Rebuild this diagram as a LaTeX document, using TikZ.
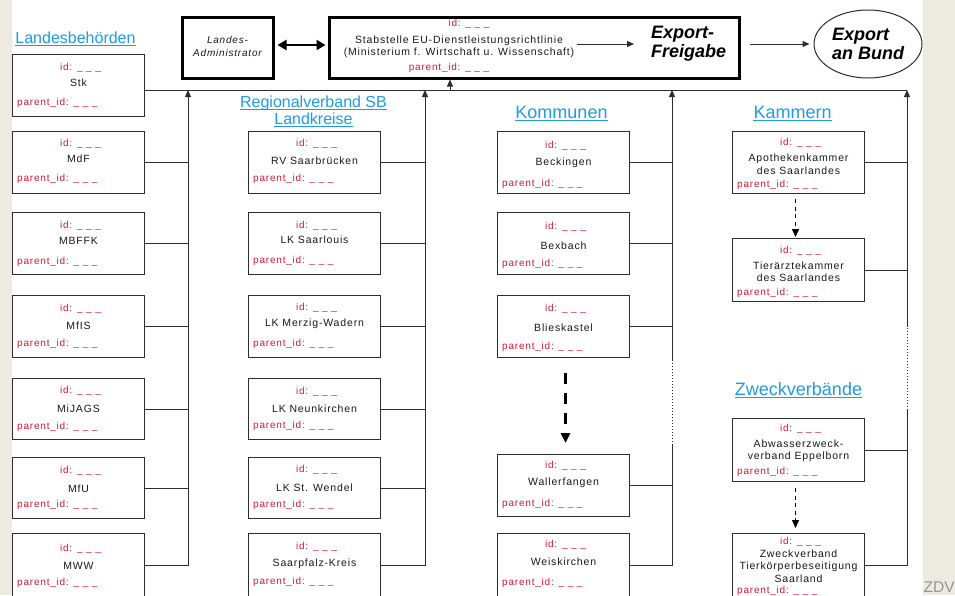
\documentclass[tikz,border=0pt]{standalone}
\usepackage{fontspec}
\setmainfont{Liberation Sans}
\newfontfamily\bxf[LetterSpace=8]{Liberation Sans}
\usetikzlibrary{arrows.meta,calc,shapes.geometric}
\definecolor{beige}{RGB}{236,234,225}
\definecolor{idred}{RGB}{214,24,56}
\definecolor{hblue}{RGB}{32,156,228}
\definecolor{lnc}{RGB}{45,45,45}
\definecolor{zdvgray}{RGB}{150,150,150}
\tikzset{
  obox/.style={draw=lnc, line width=1pt, fill=white, rectangle, inner sep=0pt, minimum width=132pt},
  tbox/.style={draw=black, line width=3pt, fill=white, rectangle, inner sep=0pt},
  idt/.style={text=idred, inner sep=0pt, font=\bxf\fontsize{10}{12}\selectfont},
  pidt/.style={idt, anchor=west},
  nmt/.style={text=black!90, inner sep=0pt, align=center, font=\bxf\fontsize{10.5}{12.5}\selectfont},
  hdrt/.style={text=hblue, inner sep=0pt, anchor=base},
  conn/.style={draw=lnc, line width=1pt},
  up/.style={conn, -{Triangle[length=7pt,width=6pt]}},
  dotl/.style={draw=lnc, line width=0.9pt, dash pattern=on 1pt off 2pt},
  bigdash/.style={draw=black, line width=2.5pt, dash pattern=on 11pt off 9pt, -{Triangle[length=10pt,width=9pt]}},
  smdash/.style={draw=black, line width=1.4pt, dash pattern=on 4pt off 3.5pt, -{Triangle[length=8pt,width=7pt]}},
  bigtxt/.style={font=\fontsize{18}{19}\selectfont\bfseries\itshape, inner sep=0pt, align=left},
}
% name, left x, top y, height, label, id offset, name offset, parent offset (from bottom)
\newcommand\obox[8]{%
  \node[obox, minimum height=#4pt, anchor=north west] (#1) at (#2,#3) {};
  \node[idt] (#1-id) at ($(#1.north)+(2,#6)$) {id: \_ \_ \_};
  \node[nmt] (#1-nm) at ($(#1.north)+(0,#7)$) {#5};
  \node[pidt] (#1-pid) at ($(#1.south west)+(5,-#8)$) {parent\_id: \_ \_ \_};
}
% name, center x, baseline y, size, text
\newcommand\hdr[5]{%
  \node[hdrt, font=\fontsize{#4}{#4}\selectfont] (#1) at (#2,#3) {#5};
  \draw[hblue, line width=1pt] ($(#1.base west)+(0,2)$) -- ($(#1.base east)+(0,2)$);
}
\begin{document}
\begin{tikzpicture}[x=1pt,y=-1pt]
\useasboundingbox (0,0) rectangle (955,595);
\fill[white] (0,0) rectangle (955,595);
\fill[beige] (0,0) rectangle (12,595);
\fill[beige] (923,0) rectangle (955,595);
\node[anchor=base west, text=zdvgray, font=\fontsize{15.5}{15.5}\selectfont, inner sep=0pt] (zdv) at (923.5,592) {ZDV};

% top row
\node[tbox, minimum width=91pt, minimum height=61pt, anchor=north west] (lad) at (180.5,15.5) {};
\node[nmt, font=\bxf\itshape\fontsize{10}{13}\selectfont] (ladtxt) at ($(lad.center)+(0,-1.5)$) {Landes-\\Administrator};
\node[tbox, minimum width=410pt, minimum height=61pt, anchor=north west] (stab) at (327.5,15.5) {};
\node[idt] (stabid) at (469,24) {id: \_ \_ \_};
\node[nmt, font=\bxf\fontsize{10.5}{12}\selectfont] (stabtxt) at (459,47) {Stabstelle EU-Dienstleistungsrichtlinie\\(Ministerium f. Wirtschaft u. Wissenschaft)};
\node[idt] (stabpid) at (449,68) {parent\_id: \_ \_ \_};
\node[bigtxt, anchor=west] (exfrei) at (651,44) {Export-\\Freigabe};
\node[ellipse, draw=lnc, line width=1pt, fill=white, minimum width=108pt, minimum height=68pt, inner sep=0pt, bigtxt] (bund) at (868,44) {Export\\an Bund};

\draw[line width=2.6pt, {Triangle[length=9pt,width=10pt]}-{Triangle[length=9pt,width=10pt]}, shorten <=3pt, shorten >=2pt] ($(lad.east)+(0,-2.5)$) -- ($(stab.west)+(0,-2.5)$);
\draw[conn, -{Triangle[length=7pt,width=6pt]}, shorten <=3pt, shorten >=17pt] (stabtxt.east |- exfrei.west) -- (exfrei.west);
\draw[conn, -{Triangle[length=7pt,width=6pt]}, shorten <=9.5pt, shorten >=4pt] (stab.east |- bund.west) -- (bund.west);

% headers
\hdr{hland}{75.5}{43}{16}{Landesbehörden}
\hdr{hreg}{313.5}{107}{16}{Regionalverband SB}
\hdr{hlk}{313.5}{124.5}{16}{Landkreise}
\hdr{hkom}{561.5}{118}{18}{Kommunen}
\hdr{hkam}{792.5}{118}{18}{Kammern}
\hdr{hzv}{798.5}{395}{18}{Zweckverbände}

% column 1
\obox{stk}{12}{54}{62}{Stk}{14}{29}{14}
\obox{mdf}{12}{131}{62}{MdF}{13}{28}{15}
\obox{mbffk}{12}{212}{62}{MBFFK}{14}{29}{13}
\obox{mfis}{12}{295}{62}{MfIS}{14}{31}{14}
\obox{mijags}{12}{378}{61}{MiJAGS}{13}{31}{13}
\obox{mfu}{12}{457}{61}{MfU}{14}{32}{14}
\obox{mww}{12}{533}{64}{MWW}{16}{33}{15}
% column 2
\obox{rv}{248}{131}{62}{RV Saarbrücken}{13}{30}{15}
\obox{lksl}{248}{212}{62}{LK Saarlouis}{14}{28}{14}
\obox{lkmw}{248}{295}{62}{LK Merzig-Wadern}{13}{29}{14}
\obox{lknk}{248}{378}{61}{LK Neunkirchen}{14}{31}{14}
\obox{lksw}{248}{457}{61}{LK St. Wendel}{13}{31}{14}
\obox{spk}{248}{533}{64}{Saarpfalz-Kreis}{14}{31}{16}
% column 3
\obox{beck}{497}{131}{62}{Beckingen}{15}{32}{10}
\obox{bex}{497}{212}{62}{Bexbach}{15}{34}{11}
\obox{blies}{497}{295}{62}{Blieskastel}{14}{33}{11}
\obox{waller}{497}{454}{62}{Wallerfangen}{12}{29}{13}
\obox{weis}{497}{533}{64}{Weiskirchen}{12}{29}{15}
% column 4
\obox{apo}{732}{131}{62}{Apothekenkammer\\des Saarlandes}{12}{33}{9}
\obox{tier}{732}{238}{63}{Tierärztekammer\\des Saarlandes}{13}{33.5}{9}
\obox{abw}{732}{418}{63}{Abwasserzweck-\\verband Eppelborn}{11}{33}{10}
\obox{tkb}{732}{533}{64}{Zweckverband\\Tierkörperbeseitigung\\Saarland}{9}{33}{7}

% bus and verticals
\coordinate (b1) at (188,90);
\coordinate (b2) at (425,90);
\coordinate (b3) at (672,90);
\coordinate (b4) at (907,90);
\coordinate (d3a) at (672,445);
\coordinate (d3b) at (672,360);
\coordinate (d4a) at (907,410);
\coordinate (d4b) at (907,327);
\coordinate (sb) at (450,90);

\draw[conn] (stk.east |- b1) -- (b4);
\draw[up] (sb) -- (sb |- stab.south);

\draw[up] (mww.east -| b1) -- (b1);
\foreach \n in {mdf,mbffk,mfis,mijags,mfu,mww} \draw[conn] (\n.east) -- (\n.east -| b1);

\draw[up] (spk.east -| b2) -- (b2);
\foreach \n in {rv,lksl,lkmw,lknk,lksw,spk} \draw[conn] (\n.east) -- (\n.east -| b2);

\draw[conn] (weis.east -| b3) -- (d3a);
\draw[dotl] (d3a) -- (d3b);
\draw[up] (d3b) -- (b3);
\foreach \n in {beck,bex,blies,waller,weis} \draw[conn] (\n.east) -- (\n.east -| b3);

\draw[conn] (tkb.east -| b4) -- (d4a);
\draw[dotl] (d4a) -- (d4b);
\draw[up] (d4b) -- (b4);
\foreach \n in {apo,tier,abw,tkb} \draw[conn] (\n.east) -- (\n.east -| b4);

% dashed arrows
\draw[bigdash, shorten <=15pt, shorten >=11pt] ($(blies.south)+(2,0)$) -- ($(waller.north)+(2,0)$);
\draw[smdash, shorten <=5pt, shorten >=1pt] ($(apo.south)+(-3,0)$) -- ($(tier.north)+(-3,0)$);
\draw[smdash, shorten <=6pt, shorten >=5pt] ($(abw.south)+(-3,0)$) -- ($(tkb.north)+(-3,0)$);
\end{tikzpicture}
\end{document}
